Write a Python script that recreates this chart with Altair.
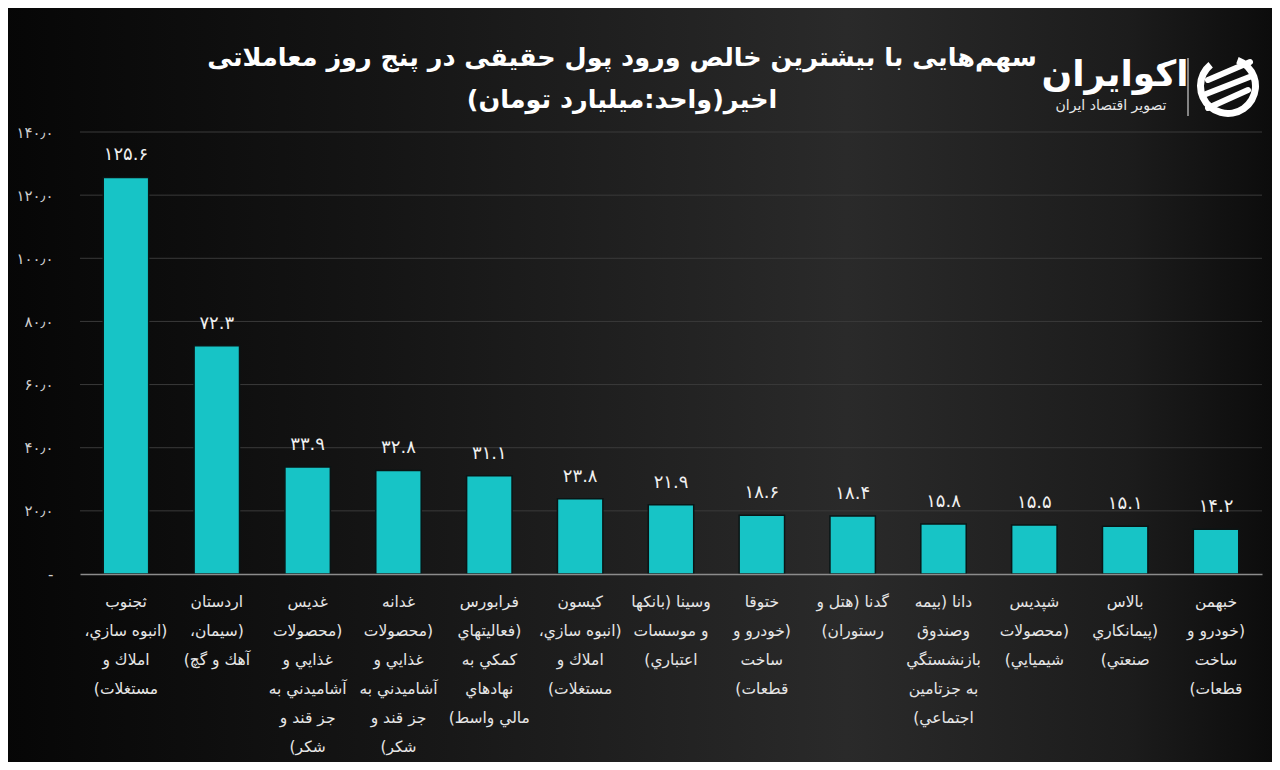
import altair as alt
import pandas as pd

names = [
    "ثجنوب\n(انبوه سازي،\nاملاك و\nمستغلات)",
    "اردستان\n(سيمان،\nآهك و گچ)",
    "غديس\n(محصولات\nغذايي و\nآشاميدني به\nجز قند و\nشكر)",
    "غدانه\n(محصولات\nغذايي و\nآشاميدني به\nجز قند و\nشكر)",
    "فرابورس\n(فعاليتهاي\nكمكي به\nنهادهاي\nمالي واسط)",
    "كيسون\n(انبوه سازي،\nاملاك و\nمستغلات)",
    "وسينا (بانكها\nو موسسات\nاعتباري)",
    "ختوقا\n(خودرو و\nساخت\nقطعات)",
    "گدنا (هتل و\nرستوران)",
    "دانا (بيمه\nوصندوق\nبازنشستگي\nبه جزتامين\nاجتماعي)",
    "شپديس\n(محصولات\nشيميايي)",
    "بالاس\n(پيمانكاري\nصنعتي)",
    "خبهمن\n(خودرو و\nساخت\nقطعات)",
]
values = [125.6, 72.3, 33.9, 32.8, 31.1, 23.8, 21.9, 18.6, 18.4, 15.8, 15.5, 15.1, 14.2]
value_labels = ["۱۲۵.۶", "۷۲.۳", "۳۳.۹", "۳۲.۸", "۳۱.۱", "۲۳.۸", "۲۱.۹",
                "۱۸.۶", "۱۸.۴", "۱۵.۸", "۱۵.۵", "۱۵.۱", "۱۴.۲"]
y_ticks = [0, 20, 40, 60, 80, 100, 120, 140]
y_tick_labels = ["-", "۲۰٫۰", "۴۰٫۰", "۶۰٫۰", "۸۰٫۰", "۱۰۰٫۰", "۱۲۰٫۰", "۱۴۰٫۰"]

title_lines = ["سهم‌هایی با بیشترین خالص ورود پول حقیقی در پنج روز معاملاتی",
               "اخیر(واحد:میلیارد تومان)"]
brand = "اکوایران"
brand_sub = "تصویر اقتصاد ایران"

FONT = "DejaVu Sans"
W, H = 1182, 442
BAR = "#17c4c6"
RLM = "\u200f"
LRM = "\u200e"


def rtl(s):
    return "\n".join(RLM + line + RLM for line in s.split("\n"))


display = [rtl(n) for n in names]
df = pd.DataFrame({"name": display, "value": values, "label": value_labels})
grid_df = pd.DataFrame({"v": y_ticks[1:]})

label_expr = " : ".join(
    f"datum.value == {v} ? '{LRM}{t}{LRM}'" for v, t in zip(y_ticks, y_tick_labels)
) + " : ''"

yscale = alt.Scale(domain=[0, 140], nice=False)

bg = alt.Chart(pd.DataFrame({"a": [0]})).mark_rect(
    fill=alt.LinearGradient(
        gradient="linear", x1=0, x2=1, y1=0, y2=0,
        stops=[
            alt.GradientStop(offset=0, color="#060606"),
            alt.GradientStop(offset=0.3, color="#151515"),
            alt.GradientStop(offset=0.66, color="#2a2a2a"),
            alt.GradientStop(offset=0.88, color="#1c1c1c"),
            alt.GradientStop(offset=1, color="#0b0b0b"),
        ],
    )
).encode(x=alt.value(-80), x2=alt.value(W + 20), y=alt.value(-132), y2=alt.value(H + 200))

grid = alt.Chart(grid_df).mark_rule(color="#3a3a3a", strokeWidth=1).encode(
    y=alt.Y("v:Q", scale=yscale, title=None),
    x=alt.value(0), x2=alt.value(W),
)

base = alt.Chart(df).encode(
    x=alt.X(
        "name:N", sort=display,
        scale=alt.Scale(paddingInner=0.5, paddingOuter=0.256),
        axis=alt.Axis(
            title=None, labelAngle=0, labelExpr="split(datum.label, '\\n')",
            labelFont=FONT, labelFontSize=15.5, labelColor="#e6e6e6",
            labelLineHeight=29, labelPadding=20, ticks=False,
            domainColor="#8c8c8c", domainWidth=1.5, labelLimit=0,
            labelBaseline="top", zindex=1,
        ),
    ),
    y=alt.Y(
        "value:Q", scale=yscale,
        axis=alt.Axis(
            title=None, values=y_ticks, labelExpr=label_expr, grid=False,
            domain=False, ticks=False, labelPadding=27, labelFont=FONT,
            labelFontSize=15, labelColor="#cfcfcf", zindex=1,
        ),
    ),
)

bars = base.mark_bar(color=BAR, stroke="#0a1515", strokeWidth=1.5)
texts = base.mark_text(
    dy=-13, baseline="bottom", font=FONT, fontSize=18, color="#f0f0f0"
).encode(text="label:N")

one = pd.DataFrame({"a": [0]})
title1 = alt.Chart(one).mark_text(
    text=rtl(title_lines[0]), font=FONT, fontSize=25.5, fontWeight="bold", color="white",
    align="center", baseline="alphabetic",
).encode(x=alt.value(542), y=alt.value(-66))
title2 = alt.Chart(one).mark_text(
    text=rtl(title_lines[1]), font=FONT, fontSize=25.5, fontWeight="bold", color="white",
    align="center", baseline="alphabetic",
).encode(x=alt.value(542), y=alt.value(-24))
logo_main = alt.Chart(one).mark_text(
    text=brand, font=FONT, fontSize=36, fontWeight="bold", color="white",
    align="center", baseline="alphabetic",
).encode(x=alt.value(1035), y=alt.value(-46))
logo_sub = alt.Chart(one).mark_text(
    text=brand_sub, font=FONT, fontSize=14, color="#e8e8e8",
    align="center", baseline="alphabetic",
).encode(x=alt.value(1031), y=alt.value(-22))
logo_sep = alt.Chart(one).mark_rule(color="#cfcfcf", strokeWidth=1.2).encode(
    x=alt.value(1108), y=alt.value(-74), y2=alt.value(-16)
)
icon_ring = alt.Chart(one).mark_arc(
    radius=31, radius2=24, theta=0.35, theta2=5.6, color="white"
).encode(x=alt.value(1148), y=alt.value(-46))
icon_s1 = alt.Chart(one).mark_rule(color="white", strokeWidth=6, strokeCap="round").encode(
    x=alt.value(1128), y=alt.value(-52), x2=alt.value(1170), y2=alt.value(-70))
icon_s2 = alt.Chart(one).mark_rule(color="white", strokeWidth=6, strokeCap="round").encode(
    x=alt.value(1126), y=alt.value(-38), x2=alt.value(1172), y2=alt.value(-56))
icon_s3 = alt.Chart(one).mark_rule(color="white", strokeWidth=6, strokeCap="round").encode(
    x=alt.value(1128), y=alt.value(-24), x2=alt.value(1168), y2=alt.value(-42))

chart = alt.layer(
    bg, grid, bars, texts, title1, title2, logo_main, logo_sub, logo_sep,
    icon_ring, icon_s1, icon_s2, icon_s3
).properties(
    width=W, height=H,
    autosize=alt.AutoSizeParams(type="none"),
    padding={"left": 72, "top": 124, "right": 10, "bottom": 188},
    background="#0b0b0b",
).configure_view(stroke=None)

chart.save("out.html", embed_options={"renderer": "svg", "actions": False})
